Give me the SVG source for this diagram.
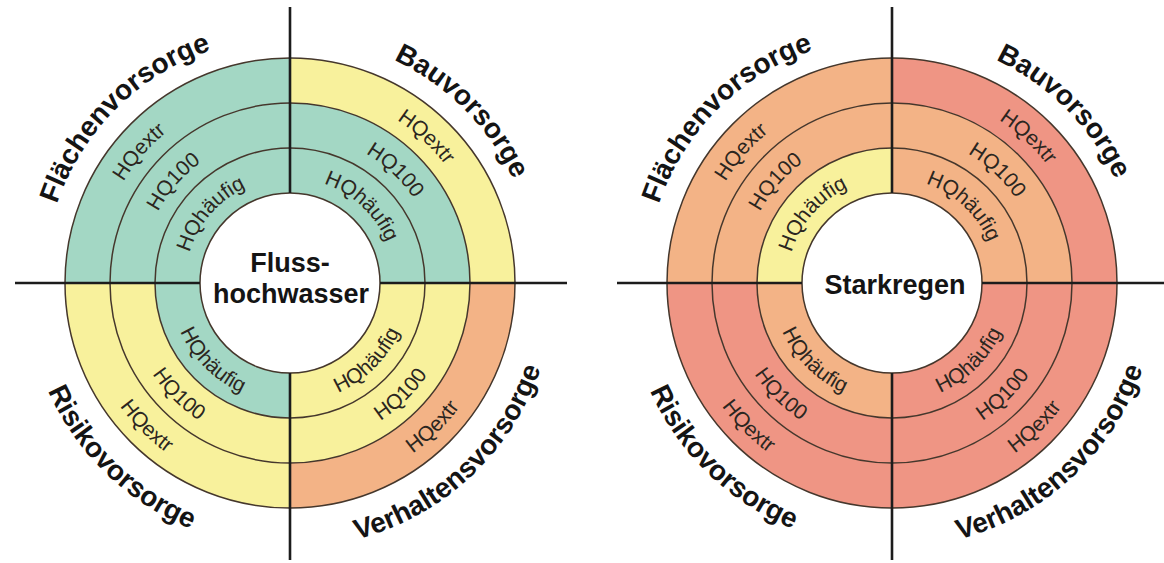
<svg xmlns="http://www.w3.org/2000/svg" xmlns:xlink="http://www.w3.org/1999/xlink" width="1164" height="563" viewBox="0 0 1164 563">
  <style>
    .teal { fill: #a3d7c4; }
    .yellow { fill: #f8f19c; }
    .orange { fill: #f3b386; }
    .salmon { fill: #ef9584; }
    .ring { fill: none; stroke: #45372c; stroke-width: 1.5; }
    .axis { fill: none; stroke: #1c1c1c; stroke-width: 2.6; }
    .qlabel { font-family: "Liberation Sans", Arial, sans-serif; font-weight: bold; font-size: 28px; fill: #141414; text-anchor: middle; }
    .rlabel { font-family: "Liberation Sans", Arial, sans-serif; font-size: 21px; fill: #2b2620; text-anchor: middle; }
    .title { font-family: "Liberation Sans", Arial, sans-serif; font-weight: bold; font-size: 27px; fill: #141414; text-anchor: middle; }
  </style>
  <defs>
    <!-- ring sectors, relative to the circle centre: inner 90-135, middle 135-180, outer 180-225 -->
    <path id="tl-out" d="M -225,0 A 225 225 0 0 1 0,-225 L 0,-180 A 180 180 0 0 0 -180,0 Z"/>
    <path id="tl-mid" d="M -180,0 A 180 180 0 0 1 0,-180 L 0,-135 A 135 135 0 0 0 -135,0 Z"/>
    <path id="tl-in" d="M -135,0 A 135 135 0 0 1 0,-135 L 0,-90 A 90 90 0 0 0 -90,0 Z"/>
    <path id="tr-out" d="M 0,-225 A 225 225 0 0 1 225,0 L 180,0 A 180 180 0 0 0 0,-180 Z"/>
    <path id="tr-mid" d="M 0,-180 A 180 180 0 0 1 180,0 L 135,0 A 135 135 0 0 0 0,-135 Z"/>
    <path id="tr-in" d="M 0,-135 A 135 135 0 0 1 135,0 L 90,0 A 90 90 0 0 0 0,-90 Z"/>
    <path id="br-out" d="M 225,0 A 225 225 0 0 1 0,225 L 0,180 A 180 180 0 0 0 180,0 Z"/>
    <path id="br-mid" d="M 180,0 A 180 180 0 0 1 0,180 L 0,135 A 135 135 0 0 0 135,0 Z"/>
    <path id="br-in" d="M 135,0 A 135 135 0 0 1 0,135 L 0,90 A 90 90 0 0 0 90,0 Z"/>
    <path id="bl-out" d="M 0,225 A 225 225 0 0 1 -225,0 L -180,0 A 180 180 0 0 0 0,180 Z"/>
    <path id="bl-mid" d="M 0,180 A 180 180 0 0 1 -180,0 L -135,0 A 135 135 0 0 0 0,135 Z"/>
    <path id="bl-in" d="M 0,135 A 135 135 0 0 1 -135,0 L -90,0 A 90 90 0 0 0 0,90 Z"/>
    <!-- text arcs: upper half runs clockwise (135deg to 405deg), lower half counter-clockwise (225deg to -45deg) -->
    <path id="top246" d="M -173.95,173.95 A 246 246 0 1 1 173.95,173.95"/>
    <path id="bot265" d="M -187.38,-187.38 A 265 265 0 1 0 187.38,-187.38"/>
    <path id="top195" d="M -137.89,137.89 A 195 195 0 1 1 137.89,137.89"/>
    <path id="top150" d="M -106.07,106.07 A 150 150 0 1 1 106.07,106.07"/>
    <path id="top105" d="M -74.25,74.25 A 105 105 0 1 1 74.25,74.25"/>
    <path id="bot210" d="M -148.49,-148.49 A 210 210 0 1 0 148.49,-148.49"/>
    <path id="bot165" d="M -116.67,-116.67 A 165 165 0 1 0 116.67,-116.67"/>
    <path id="bot120" d="M -84.85,-84.85 A 120 120 0 1 0 84.85,-84.85"/>
  </defs>

  <!-- Flusshochwasser wheel -->
  <g id="flusshochwasser" transform="translate(290,283)">
    <g id="fh-flaechenvorsorge">
      <use xlink:href="#tl-out" class="teal"/>
      <use xlink:href="#tl-mid" class="teal"/>
      <use xlink:href="#tl-in" class="teal"/>
    </g>
    <g id="fh-bauvorsorge">
      <use xlink:href="#tr-out" class="yellow"/>
      <use xlink:href="#tr-mid" class="teal"/>
      <use xlink:href="#tr-in" class="teal"/>
    </g>
    <g id="fh-risikovorsorge">
      <use xlink:href="#bl-out" class="yellow"/>
      <use xlink:href="#bl-mid" class="yellow"/>
      <use xlink:href="#bl-in" class="teal"/>
    </g>
    <g id="fh-verhaltensvorsorge">
      <use xlink:href="#br-out" class="orange"/>
      <use xlink:href="#br-mid" class="yellow"/>
      <use xlink:href="#br-in" class="yellow"/>
    </g>
    <g class="rings">
      <circle class="ring" r="90"/>
      <circle class="ring" r="135"/>
      <circle class="ring" r="180"/>
      <circle class="ring" r="225"/>
    </g>
    <g id="fh-labels">
      <text class="qlabel"><textPath xlink:href="#top246" startOffset="33.33%">Flächenvorsorge</textPath></text>
      <text class="qlabel"><textPath xlink:href="#top246" startOffset="66.67%">Bauvorsorge</textPath></text>
      <text class="qlabel"><textPath xlink:href="#bot265" startOffset="33.7%">Risikovorsorge</textPath></text>
      <text class="qlabel"><textPath xlink:href="#bot265" startOffset="65.9%">Verhaltensvorsorge</textPath></text>

      <text class="rlabel"><textPath xlink:href="#top195" startOffset="31.85%">HQextr</textPath></text>
      <text class="rlabel"><textPath xlink:href="#top150" startOffset="31.85%">HQ100</textPath></text>
      <text class="rlabel"><textPath xlink:href="#top105" startOffset="31.85%">HQhäufig</textPath></text>

      <text class="rlabel"><textPath xlink:href="#top195" startOffset="65.93%">HQextr</textPath></text>
      <text class="rlabel"><textPath xlink:href="#top150" startOffset="65.93%">HQ100</textPath></text>
      <text class="rlabel"><textPath xlink:href="#top105" startOffset="65.93%">HQhäufig</textPath></text>

      <text class="rlabel"><textPath xlink:href="#bot120" startOffset="33.33%">HQhäufig</textPath></text>
      <text class="rlabel"><textPath xlink:href="#bot165" startOffset="33.33%">HQ100</textPath></text>
      <text class="rlabel"><textPath xlink:href="#bot210" startOffset="33.33%">HQextr</textPath></text>

      <text class="rlabel"><textPath xlink:href="#bot120" startOffset="66.6%">HQhäufig</textPath></text>
      <text class="rlabel"><textPath xlink:href="#bot165" startOffset="66.6%">HQ100</textPath></text>
      <text class="rlabel"><textPath xlink:href="#bot210" startOffset="66.6%">HQextr</textPath></text>
    </g>
    <text class="title" x="0" y="-11">Fluss-</text>
    <text class="title" x="1" y="20">hochwasser</text>
  </g>

  <!-- Starkregen wheel -->
  <g id="starkregen" transform="translate(892,283)">
    <g id="sr-flaechenvorsorge">
      <use xlink:href="#tl-out" class="orange"/>
      <use xlink:href="#tl-mid" class="orange"/>
      <use xlink:href="#tl-in" class="yellow"/>
    </g>
    <g id="sr-bauvorsorge">
      <use xlink:href="#tr-out" class="salmon"/>
      <use xlink:href="#tr-mid" class="orange"/>
      <use xlink:href="#tr-in" class="orange"/>
    </g>
    <g id="sr-risikovorsorge">
      <use xlink:href="#bl-out" class="salmon"/>
      <use xlink:href="#bl-mid" class="salmon"/>
      <use xlink:href="#bl-in" class="orange"/>
    </g>
    <g id="sr-verhaltensvorsorge">
      <use xlink:href="#br-out" class="salmon"/>
      <use xlink:href="#br-mid" class="salmon"/>
      <use xlink:href="#br-in" class="salmon"/>
    </g>
    <g class="rings">
      <circle class="ring" r="90"/>
      <circle class="ring" r="135"/>
      <circle class="ring" r="180"/>
      <circle class="ring" r="225"/>
    </g>
    <g id="sr-labels">
      <text class="qlabel"><textPath xlink:href="#top246" startOffset="33.33%">Flächenvorsorge</textPath></text>
      <text class="qlabel"><textPath xlink:href="#top246" startOffset="66.67%">Bauvorsorge</textPath></text>
      <text class="qlabel"><textPath xlink:href="#bot265" startOffset="33.7%">Risikovorsorge</textPath></text>
      <text class="qlabel"><textPath xlink:href="#bot265" startOffset="65.9%">Verhaltensvorsorge</textPath></text>

      <text class="rlabel"><textPath xlink:href="#top195" startOffset="31.85%">HQextr</textPath></text>
      <text class="rlabel"><textPath xlink:href="#top150" startOffset="31.85%">HQ100</textPath></text>
      <text class="rlabel"><textPath xlink:href="#top105" startOffset="31.85%">HQhäufig</textPath></text>

      <text class="rlabel"><textPath xlink:href="#top195" startOffset="65.93%">HQextr</textPath></text>
      <text class="rlabel"><textPath xlink:href="#top150" startOffset="65.93%">HQ100</textPath></text>
      <text class="rlabel"><textPath xlink:href="#top105" startOffset="65.93%">HQhäufig</textPath></text>

      <text class="rlabel"><textPath xlink:href="#bot120" startOffset="33.33%">HQhäufig</textPath></text>
      <text class="rlabel"><textPath xlink:href="#bot165" startOffset="33.33%">HQ100</textPath></text>
      <text class="rlabel"><textPath xlink:href="#bot210" startOffset="33.33%">HQextr</textPath></text>

      <text class="rlabel"><textPath xlink:href="#bot120" startOffset="66.6%">HQhäufig</textPath></text>
      <text class="rlabel"><textPath xlink:href="#bot165" startOffset="66.6%">HQ100</textPath></text>
      <text class="rlabel"><textPath xlink:href="#bot210" startOffset="66.6%">HQextr</textPath></text>
    </g>
    <text class="title" x="3" y="11">Starkregen</text>
  </g>

  <!-- quadrant dividers, interrupted by the central hole -->
  <g id="connectors">
    <path class="axis" d="M 15,283 H 200 M 380,283 H 567 M 290,7 V 193 M 290,373 V 560"/>
    <path class="axis" d="M 617,283 H 802 M 982,283 H 1164 M 892,7 V 193 M 892,373 V 560"/>
  </g>
</svg>
